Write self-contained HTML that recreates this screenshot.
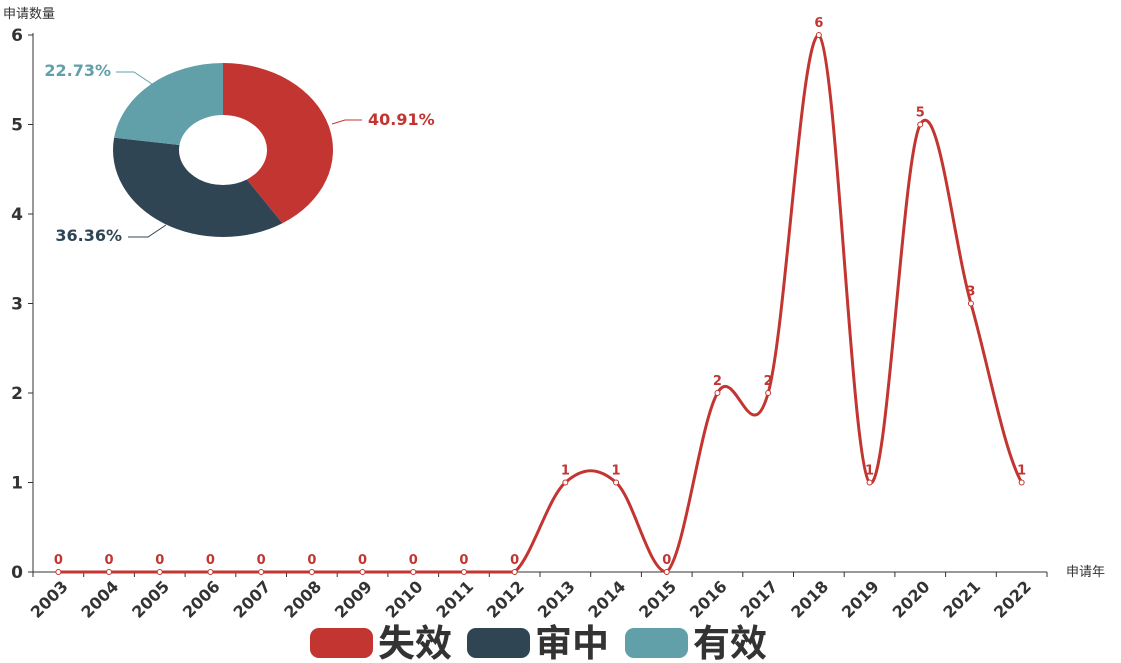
<!DOCTYPE html>
<html><head><meta charset="utf-8"><style>
body{margin:0;background:#fff;}
svg{display:block;font-family:"DejaVu Sans","Noto Sans CJK SC",sans-serif;}
</style></head><body>
<svg id="c" width="1121" height="663" viewBox="0 0 1121 663"></svg>
<script>
const years=["2003","2004","2005","2006","2007","2008","2009","2010","2011","2012","2013","2014","2015","2016","2017","2018","2019","2020","2021","2022"];
const counts=[0,0,0,0,0,0,0,0,0,0,1,1,0,2,2,6,1,5,3,1];
const yTicks=[0,1,2,3,4,5,6];
const pieNames=["失效","审中","有效"];
const pieValues=[40.91,36.36,22.73];
const pieColors=["#c23531","#2f4554","#61a0a8"];
const NS="http://www.w3.org/2000/svg";
const svg=document.getElementById('c');
function el(t,a,p){const e=document.createElementNS(NS,t);for(const k in a)e.setAttribute(k,a[k]);(p||svg).appendChild(e);return e;}
const X0=33,X1=1047,Y0=572,Y1=35;
const bw=(X1-X0)/years.length;
const xs=i=>X0+bw*(i+0.5);
const ys=v=>Y0-(Y0-Y1)*v/6;
let a=el('line',{x1:X0,y1:Y0,x2:X0,y2:Y1-2,stroke:'#333','stroke-width':1});

yTicks.forEach(v=>{
 el('line',{x1:X0-5,y1:ys(v),x2:X0,y2:ys(v),stroke:'#333'});
 const t=el('text',{x:X0-10,y:ys(v)+6,'text-anchor':'end','font-size':17,'font-weight':'bold',fill:'#333'});
 t.textContent=v;
 
});
let yt=el('text',{x:3,y:18,'font-size':13,fill:'#333'});yt.textContent='申请数量';

let xa=el('line',{x1:X0,y1:Y0,x2:X1,y2:Y0,stroke:'#333'});

for(let i=0;i<=years.length;i++)el('line',{x1:X0+bw*i,y1:Y0,x2:X0+bw*i,y2:Y0+5,stroke:'#333'});
years.forEach((y,i)=>{
 const x=xs(i)+2,yy=Y0+7;
 const t=el('text',{x:x,y:yy,'text-anchor':'end','font-size':16,'font-weight':'bold',fill:'#333',transform:`rotate(-45 ${x} ${yy})`,dy:'0.75em'});
 t.textContent=y;
 
});
let xt=el('text',{x:1066,y:576,'font-size':13,fill:'#333'});xt.textContent='申请年';

const P=counts.map((v,i)=>[xs(i),ys(v)]);
const minY=Math.min(...P.map(p=>p[1])),maxY=Math.max(...P.map(p=>p[1]));
const cl=v=>Math.max(minY,Math.min(maxY,v));
let d=`M${P[0][0]},${P[0][1]}`;const s=0.35;
for(let i=0;i<P.length-1;i++){
 const p0=P[Math.max(i-1,0)],p1=P[i],p2=P[i+1],p3=P[Math.min(i+2,P.length-1)];
 const c1=[p1[0]+(p2[0]-p0[0])*s/2*(i==0?2:1),cl(p1[1]+(p2[1]-p0[1])*s/2)];
 const c2=[p2[0]-(p3[0]-p1[0])*s/2*(i==P.length-2?2:1),cl(p2[1]-(p3[1]-p1[1])*s/2)];
 d+=` C${c1[0]},${c1[1]} ${c2[0]},${c2[1]} ${p2[0]},${p2[1]}`;
}
let ln=el('path',{d:d,fill:'none',stroke:'#c23531','stroke-width':3});

P.forEach((p,i)=>{
 const c=el('circle',{cx:p[0],cy:p[1],r:2.5,fill:'#fff',stroke:'#c23531','stroke-width':1});
 
 const t=el('text',{x:p[0],y:p[1]-8,'text-anchor':'middle','font-size':13,'font-weight':'bold',fill:'#c23531'});
 t.textContent=counts[i];
 
});
const cx=223,cy=150,rx=110,ry=87,irx=44,iry=35;
const tot=pieValues.reduce((a,b)=>a+b,0);let ang=-Math.PI/2;
pieValues.forEach((v,i)=>{
 const a2=ang+v/tot*2*Math.PI,lg=(a2-ang)>Math.PI?1:0;
 const pt=(r1,r2,t)=>[cx+r1*Math.cos(t),cy+r2*Math.sin(t)];
 const o1=pt(rx,ry,ang),o2=pt(rx,ry,a2),i1=pt(irx,iry,a2),i2=pt(irx,iry,ang);
 const p=el('path',{d:`M${o1} A${rx},${ry} 0 ${lg} 1 ${o2} L${i1} A${irx},${iry} 0 ${lg} 0 ${i2}Z`,fill:pieColors[i]});
 
 ang=a2;
});
const lab=[[[332,124],[345,120],[362,120],368,125,'start'],[[166,225],[148,237],[128,237],122,241,'end'],[[152,84],[134,72],[116,72],111,76,'end']];
pieValues.forEach((v,i)=>{
 const L=lab[i];
 el('polyline',{points:`${L[0]} ${L[1]} ${L[2]}`,fill:'none',stroke:pieColors[i]});
 const t=el('text',{x:L[3],y:L[4],'text-anchor':L[5],'font-size':16,'font-weight':'bold',fill:pieColors[i]});
 t.textContent=v.toFixed(2)+'%';
 
});
const lx=[310,467,625];
pieNames.forEach((n,i)=>{
 const g=el('g',{});
 
 el('rect',{x:lx[i],y:628,width:63,height:30,rx:9,fill:pieColors[i]},g);
 const t=el('text',{x:lx[i]+68,y:656,'font-size':37,'font-weight':'bold',fill:'#333'},g);
 t.textContent=n;
});
</script>
</body></html>
